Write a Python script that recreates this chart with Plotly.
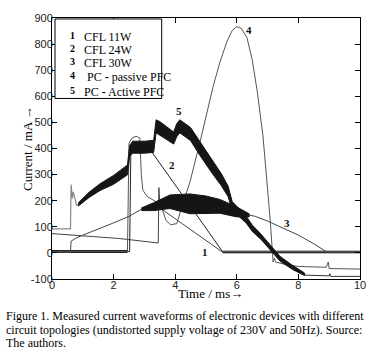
import plotly.graph_objects as go

# ---------------- data (time in ms, current in mA) ----
# Curve 1: CFL 11W
c1_t = [0, 2.2, 3.45, 3.47, 3.5, 3.55, 3.65, 5.55, 10]
c1_i = [74, 55, 38, 250, 190, 170, 160, 2, 2]

# Curve 2: CFL 24W
c2_t = [0, 2.52, 2.56, 2.62, 3.0, 3.25, 5.55, 10]
c2_i = [5, 5, 400, 420, 410, 385, 3, 3]

# Curve 3: CFL 30W (thin parts and ripple envelope)
c3a_t = [0, 0.6, 0.62, 0.8, 1.0, 1.5, 2.0, 2.5, 2.9]
c3a_i = [3, 3, 45, 58, 68, 90, 115, 140, 167]
c3_band_t = [2.9, 3.3, 3.83, 4.48, 5.0, 5.45, 6.0, 6.4]
c3_band_hi = [172, 192, 222, 226, 218, 205, 176, 150]
c3_band_lo = [162, 162, 170, 150, 150, 152, 138, 138]
c3b_t = [6.4, 6.6, 7.0, 7.5, 8.0, 8.5, 8.93, 10]
c3b_i = [145, 140, 122, 95, 68, 35, 3, 3]

# Curve 4: PC - passive PFC
c4_t = [0, 2.45, 2.5, 2.6, 2.73, 2.85, 2.9, 2.95, 3.1, 3.3, 3.5, 3.6, 3.7, 3.85,
        4.05, 4.25, 4.48, 4.8, 5.23, 5.45, 5.68, 5.85, 6.0, 6.15, 6.33, 6.5,
        6.66, 6.85, 6.98, 7.08, 7.18, 7.22, 7.26, 7.6, 8.0, 8.9, 8.97, 9.0, 10]
c4_i = [5, 5, 420, 440, 447, 440, 300, 240, 215, 200, 188, 160, 125, 108,
        112, 190, 272, 422, 637, 730, 810, 852, 867, 860, 825, 740,
        622, 448, 272, 133, -35, -20, -35, -45, -52, -55, -35, -60, -62]

# Curve 5: PC - Active PFC (thin start, ripple envelope, thin tail)
c5a_t = [0, 0.6, 0.62, 0.66, 0.69, 0.8, 0.85]
c5a_i = [92, 92, 262, 209, 234, 182, 185]
c5_band_t = [0.85, 1.2, 1.56, 2.0, 2.45, 2.52, 2.62, 3.0, 3.3, 3.38, 3.5, 3.95,
             4.05, 4.15, 4.5, 4.8, 5.2, 5.5, 5.72, 5.85, 6.3, 6.5, 6.8, 7.1,
             7.4, 7.8, 8.2]
c5_band_hi = [191, 232, 265, 297, 337, 411, 428, 428, 431, 510, 503, 463,
              495, 510, 480, 426, 355, 303, 255, 197, 141, 107, 70, 28,
              -13, -47, -77]
c5_band_lo = [179, 212, 239, 263, 299, 369, 382, 382, 385, 460, 453, 417,
              445, 460, 430, 374, 305, 257, 215, 163, 115, 83, 50, 8,
              -31, -63, -87]
c5b_t = [8.2, 9.0, 9.02, 9.05, 10]
c5b_i = [-85, -88, -80, -90, -90]

# Noise floor (overlapping flat parts near zero)
floor1_t = [0, 2.45]
floor1_i = [5, 5]
floor2_t = [5.55, 10]
floor2_i = [3, 3]

# curve labels
lab_text = ["1", "2", "3", "4", "5"]
lab_t = [4.97, 3.89, 7.64, 6.4, 4.12]
lab_i = [5, 335, 113, 855, 542]

legend_num = ["1", "2", "3", "4", "5"]
legend_txt = ["CFL 11W", "CFL 24W", "CFL 30W", " PC <b>-</b> passive PFC", "PC <b>-</b> Active PFC"]

x_ticks = [0, 2, 4, 6, 8, 10]
y_ticks = [-100, 0, 100, 200, 300, 400, 500, 600, 700, 800, 900]

caption = [
    "Figure 1. Measured current waveforms of electronic devices with different",
    "circuit topologies (undistorted supply voltage of 230V and 50Hz). Source:",
    "The authors.",
]

# ---------------- figure -------------------------------------------------
W, H = 383, 353
L, R, T, B = 52, 23, 13, 74
pw, ph = W - L - R, H - T - B


def px(xp):
    return (xp - L) / pw


def py(yp):
    return (H - B - yp) / ph


fig = go.Figure()


def line(t, i, color, width):
    fig.add_trace(go.Scatter(x=t, y=i, mode="lines",
                             line=dict(color=color, width=width),
                             hoverinfo="skip", showlegend=False))


def band(t, hi, lo, color):
    fig.add_trace(go.Scatter(x=list(t) + list(t)[::-1],
                             y=list(hi) + list(lo)[::-1],
                             mode="lines", fill="toself", fillcolor=color,
                             line=dict(color=color, width=1),
                             hoverinfo="skip", showlegend=False))


line(floor1_t, floor1_i, "#222", 3)
line(floor2_t, floor2_i, "#777", 3)
line(c1_t, c1_i, "#444", 1)
line(c2_t, c2_i, "#222", 1)
line(c4_t, c4_i, "#555", 1)
line(c3a_t, c3a_i, "#444", 1)
band(c3_band_t, c3_band_hi, c3_band_lo, "#151515")
line(c3b_t, c3b_i, "#444", 1)
line(c5a_t, c5a_i, "#888", 1.2)
band(c5_band_t, c5_band_hi, c5_band_lo, "#151515")
line(c5b_t, c5b_i, "#333", 1)

for s, t, i in zip(lab_text, lab_t, lab_i):
    fig.add_annotation(x=t, y=i, text="<b>" + s + "</b>", showarrow=False,
                       font=dict(family="Liberation Serif", size=11, color="#111"))

# legend box
fig.add_shape(type="rect", xref="paper", yref="paper",
              x0=px(55), x1=px(161.7), y0=py(95), y1=py(14),
              line=dict(color="black", width=1), fillcolor="white", layer="above")
leg_y = [23, 36, 50, 64, 79]
for n, s, yy in zip(legend_num, legend_txt, leg_y):
    fig.add_annotation(xref="paper", yref="paper", x=px(68), y=py(yy),
                       text="<b>" + n + "</b>", showarrow=False,
                       font=dict(family="Liberation Serif", size=10, color="black"))
    fig.add_annotation(xref="paper", yref="paper", x=px(82), y=py(yy),
                       xanchor="left", text=s, showarrow=False,
                       font=dict(family="Liberation Serif", size=12, color="black"))

# axis titles
fig.add_annotation(xref="paper", yref="paper", x=px(18), y=py(146),
                   text="Current / mA →", textangle=-90, showarrow=False,
                   font=dict(family="Liberation Serif", size=13, color="black"))
fig.add_annotation(xref="paper", yref="paper", x=px(210), y=py(303),
                   text="Time / ms→", showarrow=False,
                   font=dict(family="Liberation Serif", size=13, color="black"))

for s, yy in zip(caption, [317, 331, 344]):
    fig.add_annotation(xref="paper", yref="paper", x=px(4), y=py(yy),
                       xanchor="left", yanchor="middle", text=s, showarrow=False,
                       font=dict(family="Liberation Serif", size=12, color="black"))

axis_common = dict(showline=True, linecolor="black", linewidth=1, mirror="ticks",
                   ticks="inside", ticklen=5, tickcolor="black", showgrid=False,
                   zeroline=False,
                   tickfont=dict(family="Liberation Sans", size=11, color="#222"))

fig.update_xaxes(range=[0, 10], tickvals=x_ticks, ticktext=[str(v) for v in x_ticks],
                 ticklabelstandoff=-4, **axis_common)
fig.update_yaxes(range=[-100, 900], tickvals=y_ticks, ticktext=[str(v) for v in y_ticks],
                 ticklabelstandoff=-4, **axis_common)

fig.update_layout(width=W, height=H, margin=dict(l=L, r=R, t=T, b=B, pad=0),
                  paper_bgcolor="white", plot_bgcolor="white", showlegend=False)

fig.write_html("out.html", config={"displayModeBar": False},
               post_script="document.body.style.margin='0';document.body.style.padding='0';")
